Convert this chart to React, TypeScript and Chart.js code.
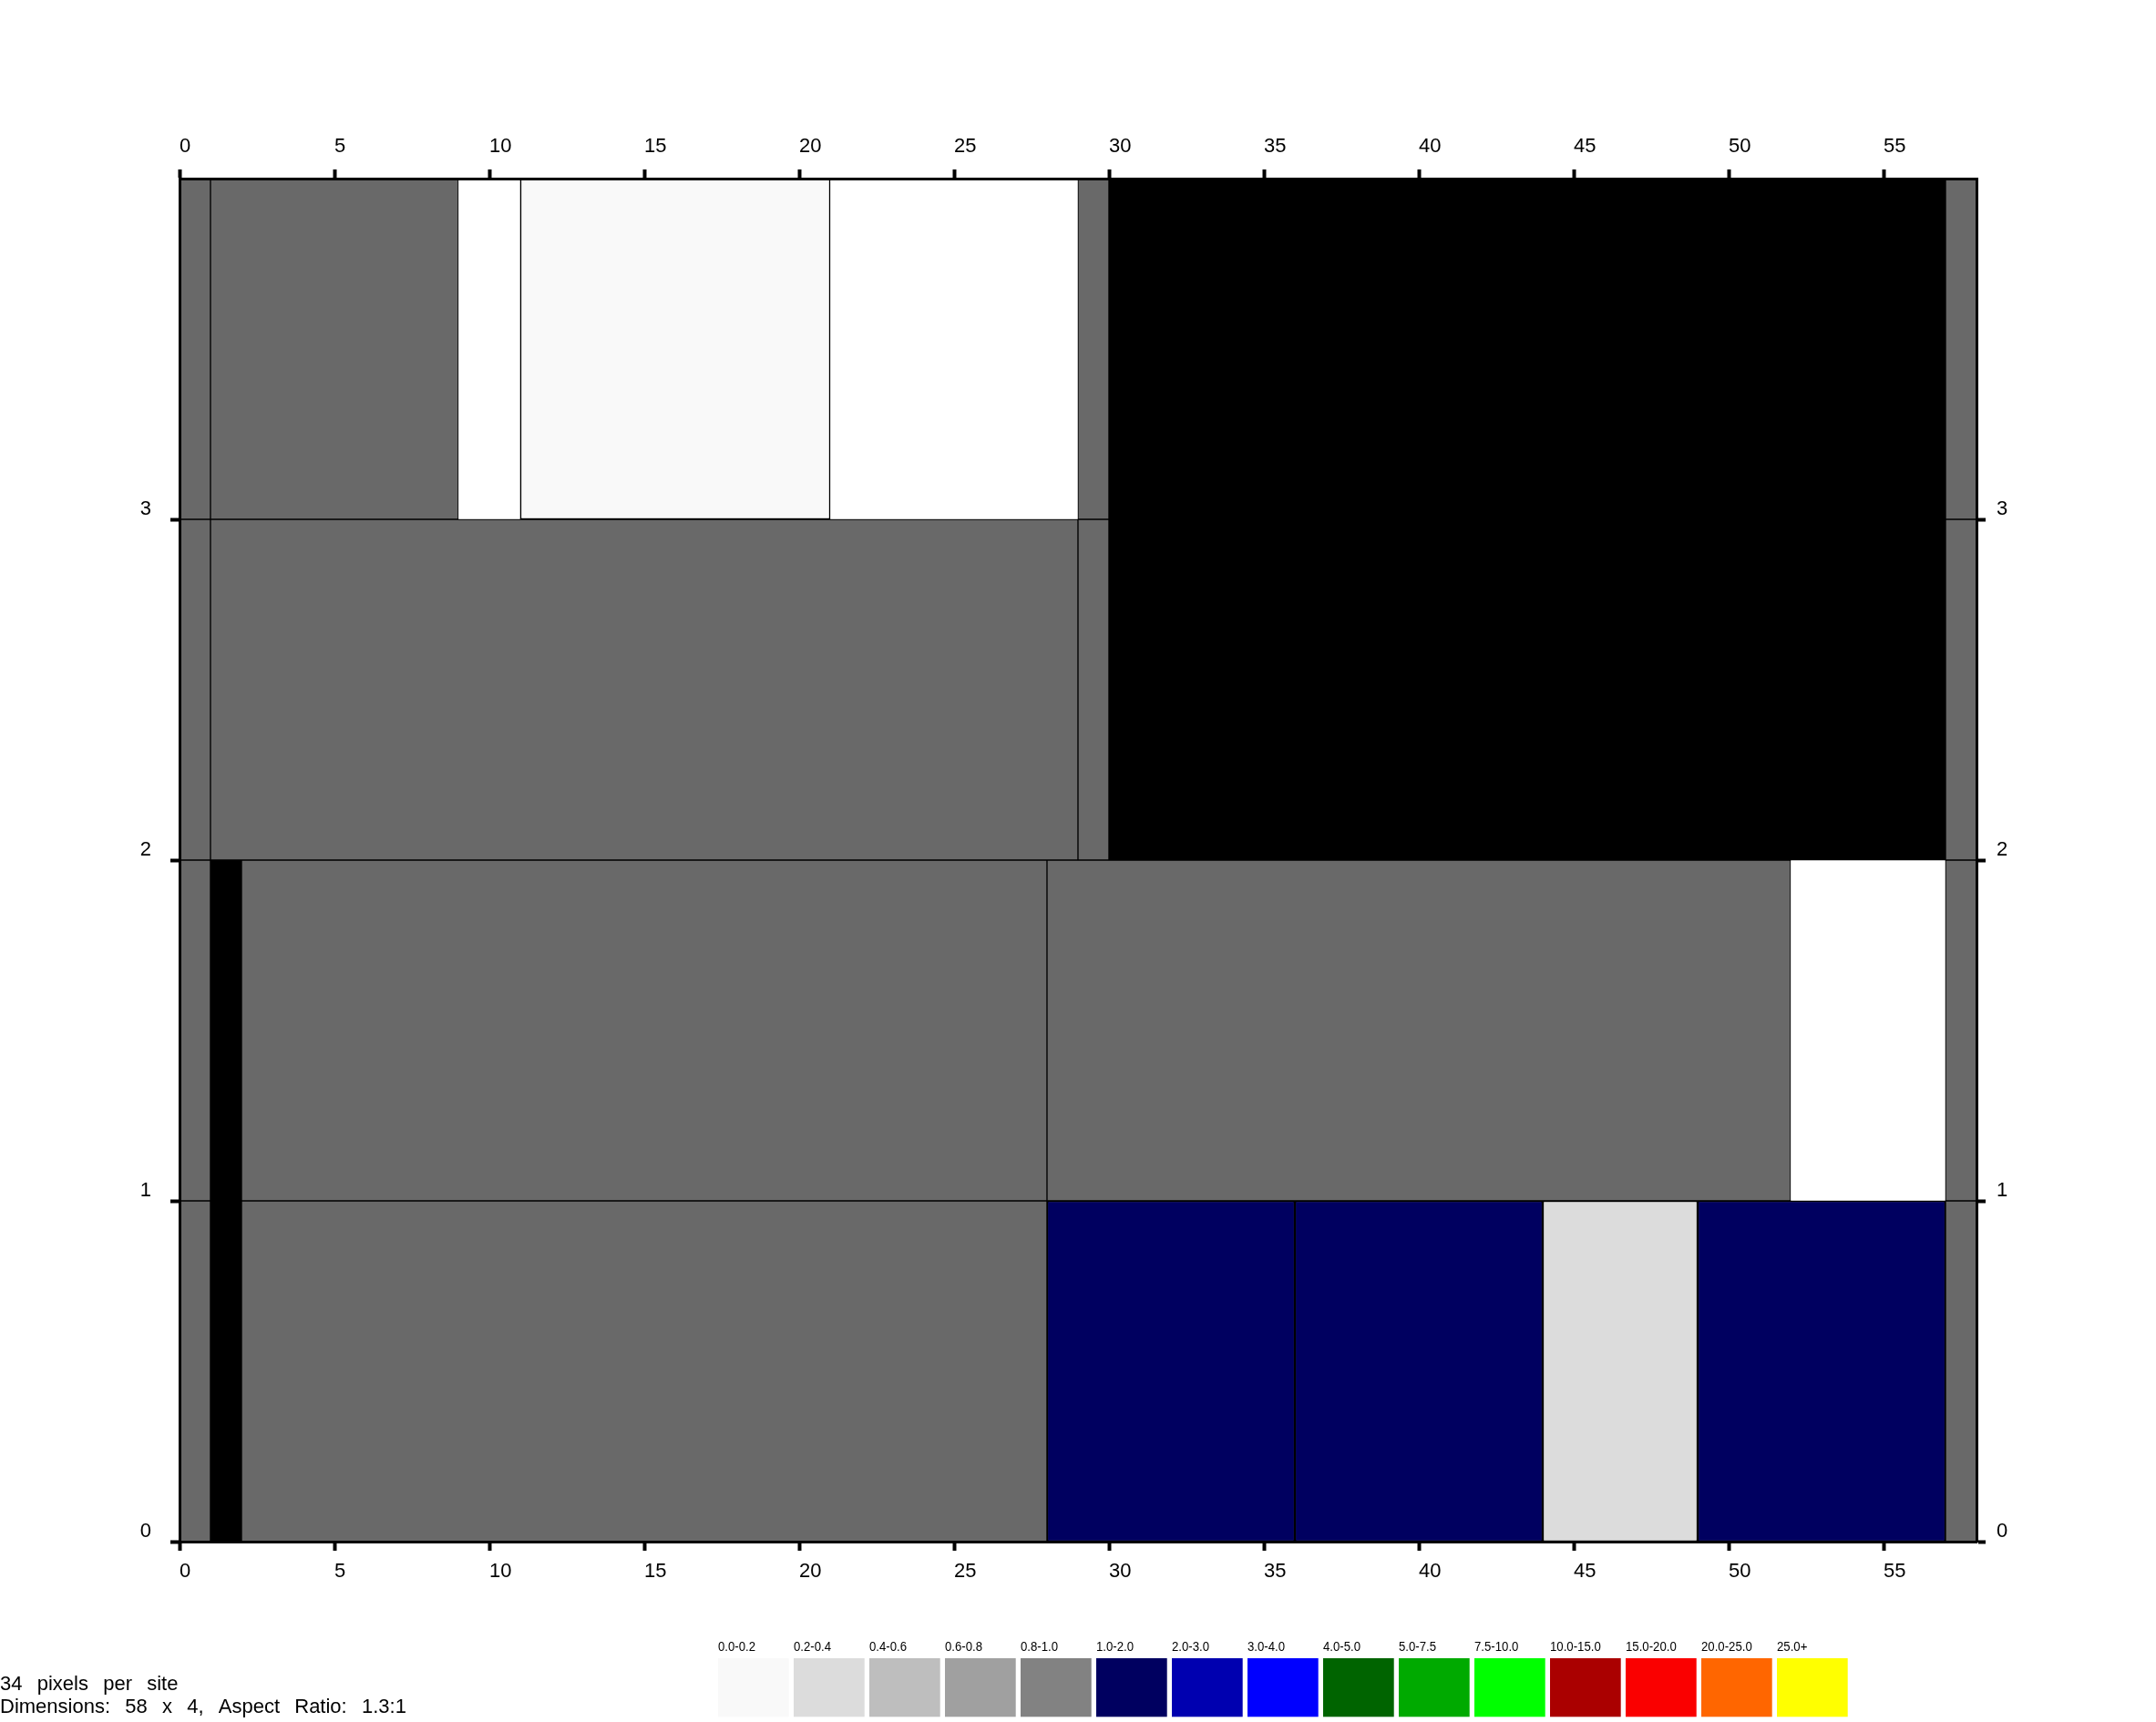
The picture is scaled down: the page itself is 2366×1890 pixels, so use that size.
import React, { useEffect, useRef } from 'react';
import { Chart, registerables } from 'chart.js';

Chart.register(...registerables);

const FONT = '"Liberation Sans", Arial, sans-serif';

// Axis ticks
const xTickValues = [0, 5, 10, 15, 20, 25, 30, 35, 40, 45, 50, 55];
const yTickValues = [0, 1, 2, 3];
const xMax = 58;
const yMax = 4;

// Legend (value bins)
const legendLabels = ['0.0-0.2', '0.2-0.4', '0.4-0.6', '0.6-0.8', '0.8-1.0', '1.0-2.0', '2.0-3.0', '3.0-4.0', '4.0-5.0', '5.0-7.5', '7.5-10.0', '10.0-15.0', '15.0-20.0', '20.0-25.0', '25.0+'];
const legendBinStarts = [0, 0.2, 0.4, 0.6, 0.8, 1, 2, 3, 4, 5, 7.5, 10, 15, 20, 25];
const legendColors = ['#f9f9f9', '#dcdcdc', '#bebebe', '#a0a0a0', '#828282', '#000060', '#0000b0', '#0000ff', '#006400', '#00aa00', '#00ff00', '#aa0000', '#fa0000', '#ff6600', '#ffff00'];

// Special cell classes
const naColor = '#696969';
const wallColor = '#000000';
const emptyColor = '#ffffff';

// Cells per row: x edges and cell values ('na' = no data, 'wall', 'empty', or a number)
const row0Edges = [0, 1, 2, 28, 36, 44, 49, 57, 58];
const row0Values: (number | string)[] = ['na', 'wall', 'na', 1.5, 1.5, 0.3, 1.5, 'na'];
const row1Edges = [0, 1, 2, 28, 52, 57, 58];
const row1Values: (number | string)[] = ['na', 'wall', 'na', 'na', 'empty', 'na'];
const row2Edges = [0, 1, 29, 30, 57, 58];
const row2Values: (number | string)[] = ['na', 'na', 'na', 'wall', 'na'];
const row3Edges = [0, 1, 9, 11, 21, 29, 30, 57, 58];
const row3Values: (number | string)[] = ['na', 'na', 'empty', 0.1, 'empty', 'na', 'wall', 'na'];

const infoLines = ['34  pixels  per  site', 'Dimensions:  58  x  4,  Aspect  Ratio:  1.3:1'];

function cellColor(v: number | string): string {
  if (v === 'na') return naColor;
  if (v === 'wall') return wallColor;
  if (v === 'empty') return emptyColor;
  let idx = 0;
  for (let i = 0; i < legendBinStarts.length; i++) if ((v as number) >= legendBinStarts[i]) idx = i;
  return legendColors[idx];
}

function cellBorder(v: number | string): number {
  if (typeof v === 'number') return 1.5;
  if (v === 'empty') return 0.5;
  return 1;
}

const extrasPlugin = {
  id: 'extras',
  afterDraw(chart: any) {
    const ctx = chart.ctx as CanvasRenderingContext2D;
    ctx.save();
    // colour key
    const boxLeft = 788, pitch = 83, boxW = 77.7, boxTop = 1820, boxH = 64.3;
    legendLabels.forEach((lab, i) => {
      const x = boxLeft + i * pitch;
      ctx.fillStyle = legendColors[i];
      ctx.fillRect(x, boxTop, boxW, boxH);
      ctx.save();
      ctx.translate(x, 1808);
      ctx.scale(0.88, 1);
      ctx.fillStyle = '#000';
      ctx.font = `15px ${FONT}`;
      ctx.textAlign = 'left';
      ctx.textBaseline = 'middle';
      ctx.fillText(lab, 0, 0);
      ctx.restore();
    });
    // info text
    ctx.fillStyle = '#000';
    ctx.font = `22px ${FONT}`;
    ctx.textAlign = 'left';
    ctx.textBaseline = 'alphabetic';
    try { (ctx as any).wordSpacing = '2px'; } catch (e) {}
    ctx.fillText(infoLines[0], 0, 1855);
    ctx.fillText(infoLines[1], 0, 1880);
    ctx.restore();
  },
};

export default function App() {
  const ref = useRef<HTMLCanvasElement>(null);
  useEffect(() => {
    document.body.style.margin = '0';
    document.body.style.overflow = 'hidden';
    const rowsEdges = [row0Edges, row1Edges, row2Edges, row3Edges];
    const rowsValues = [row0Values, row1Values, row2Values, row3Values];
    const cells: any[] = [];
    rowsEdges.forEach((edges, r) => {
      rowsValues[r].forEach((v, i) => {
        cells.push({ x: [edges[i], edges[i + 1]], y: r + 0.5, v });
      });
    });

    const tickFont = { family: FONT, size: 22 };
    const grid = { drawOnChartArea: false, drawTicks: true, tickLength: 10, tickWidth: 4, tickColor: '#000', offset: false };
    const border = { display: true, color: '#000', width: 3, z: 1 };

    const chart = new Chart(ref.current as HTMLCanvasElement, {
      type: 'bar',
      data: {
        datasets: [
          {
            data: cells,
            backgroundColor: cells.map((c) => cellColor(c.v)),
            borderColor: '#000',
            borderWidth: cells.map((c) => cellBorder(c.v)),
            borderSkipped: false,
            categoryPercentage: 1,
            barPercentage: 1,
            xAxisID: 'x',
            yAxisID: 'y',
          } as any,
        ],
      },
      plugins: [extrasPlugin],
      options: {
        animation: false,
        responsive: false,
        devicePixelRatio: 1,
        indexAxis: 'y',
        layout: { padding: 0, autoPadding: false } as any,
        plugins: { legend: { display: false }, tooltip: { enabled: false } },
        scales: {
          x: {
            type: 'linear', position: 'bottom', min: 0, max: xMax, offset: false,
            grid, border,
            ticks: { color: '#000', font: tickFont, align: 'start', padding: 10, maxRotation: 0, autoSkip: false, callback: (v: any) => String(v) },
            afterBuildTicks: (s: any) => { s.ticks = xTickValues.map((value) => ({ value })); },
            afterFit: (s: any) => { s.height = 198; },
          },
          x2: {
            type: 'linear', position: 'top', min: 0, max: xMax, offset: false,
            grid, border,
            ticks: { color: '#000', font: tickFont, align: 'start', padding: 12, maxRotation: 0, autoSkip: false, callback: (v: any) => String(v) },
            afterBuildTicks: (s: any) => { s.ticks = xTickValues.map((value) => ({ value })); },
            afterFit: (s: any) => { s.height = 196; },
          },
          y: {
            type: 'linear', position: 'left', min: 0, max: yMax, offset: false,
            grid, border,
            ticks: { color: '#000', font: tickFont, padding: 21, labelOffset: -11, autoSkip: false, callback: (v: any) => String(v) },
            afterBuildTicks: (s: any) => { s.ticks = yTickValues.map((value) => ({ value })); },
            afterFit: (s: any) => { s.width = 197; },
          },
          y2: {
            type: 'linear', position: 'right', min: 0, max: yMax, offset: false,
            grid, border,
            ticks: { color: '#000', font: tickFont, padding: 12, labelOffset: -11, autoSkip: false, callback: (v: any) => String(v) },
            afterBuildTicks: (s: any) => { s.ticks = yTickValues.map((value) => ({ value })); },
            afterFit: (s: any) => { s.width = 197; },
          },
        } as any,
      },
    });
    return () => chart.destroy();
  }, []);

  return (
    <div style={{ position: 'absolute', left: 0, top: 0, width: 2366, height: 1890, background: '#fff' }}>
      <canvas ref={ref} width={2366} height={1890} style={{ display: 'block', width: 2366, height: 1890 }} />
    </div>
  );
}
